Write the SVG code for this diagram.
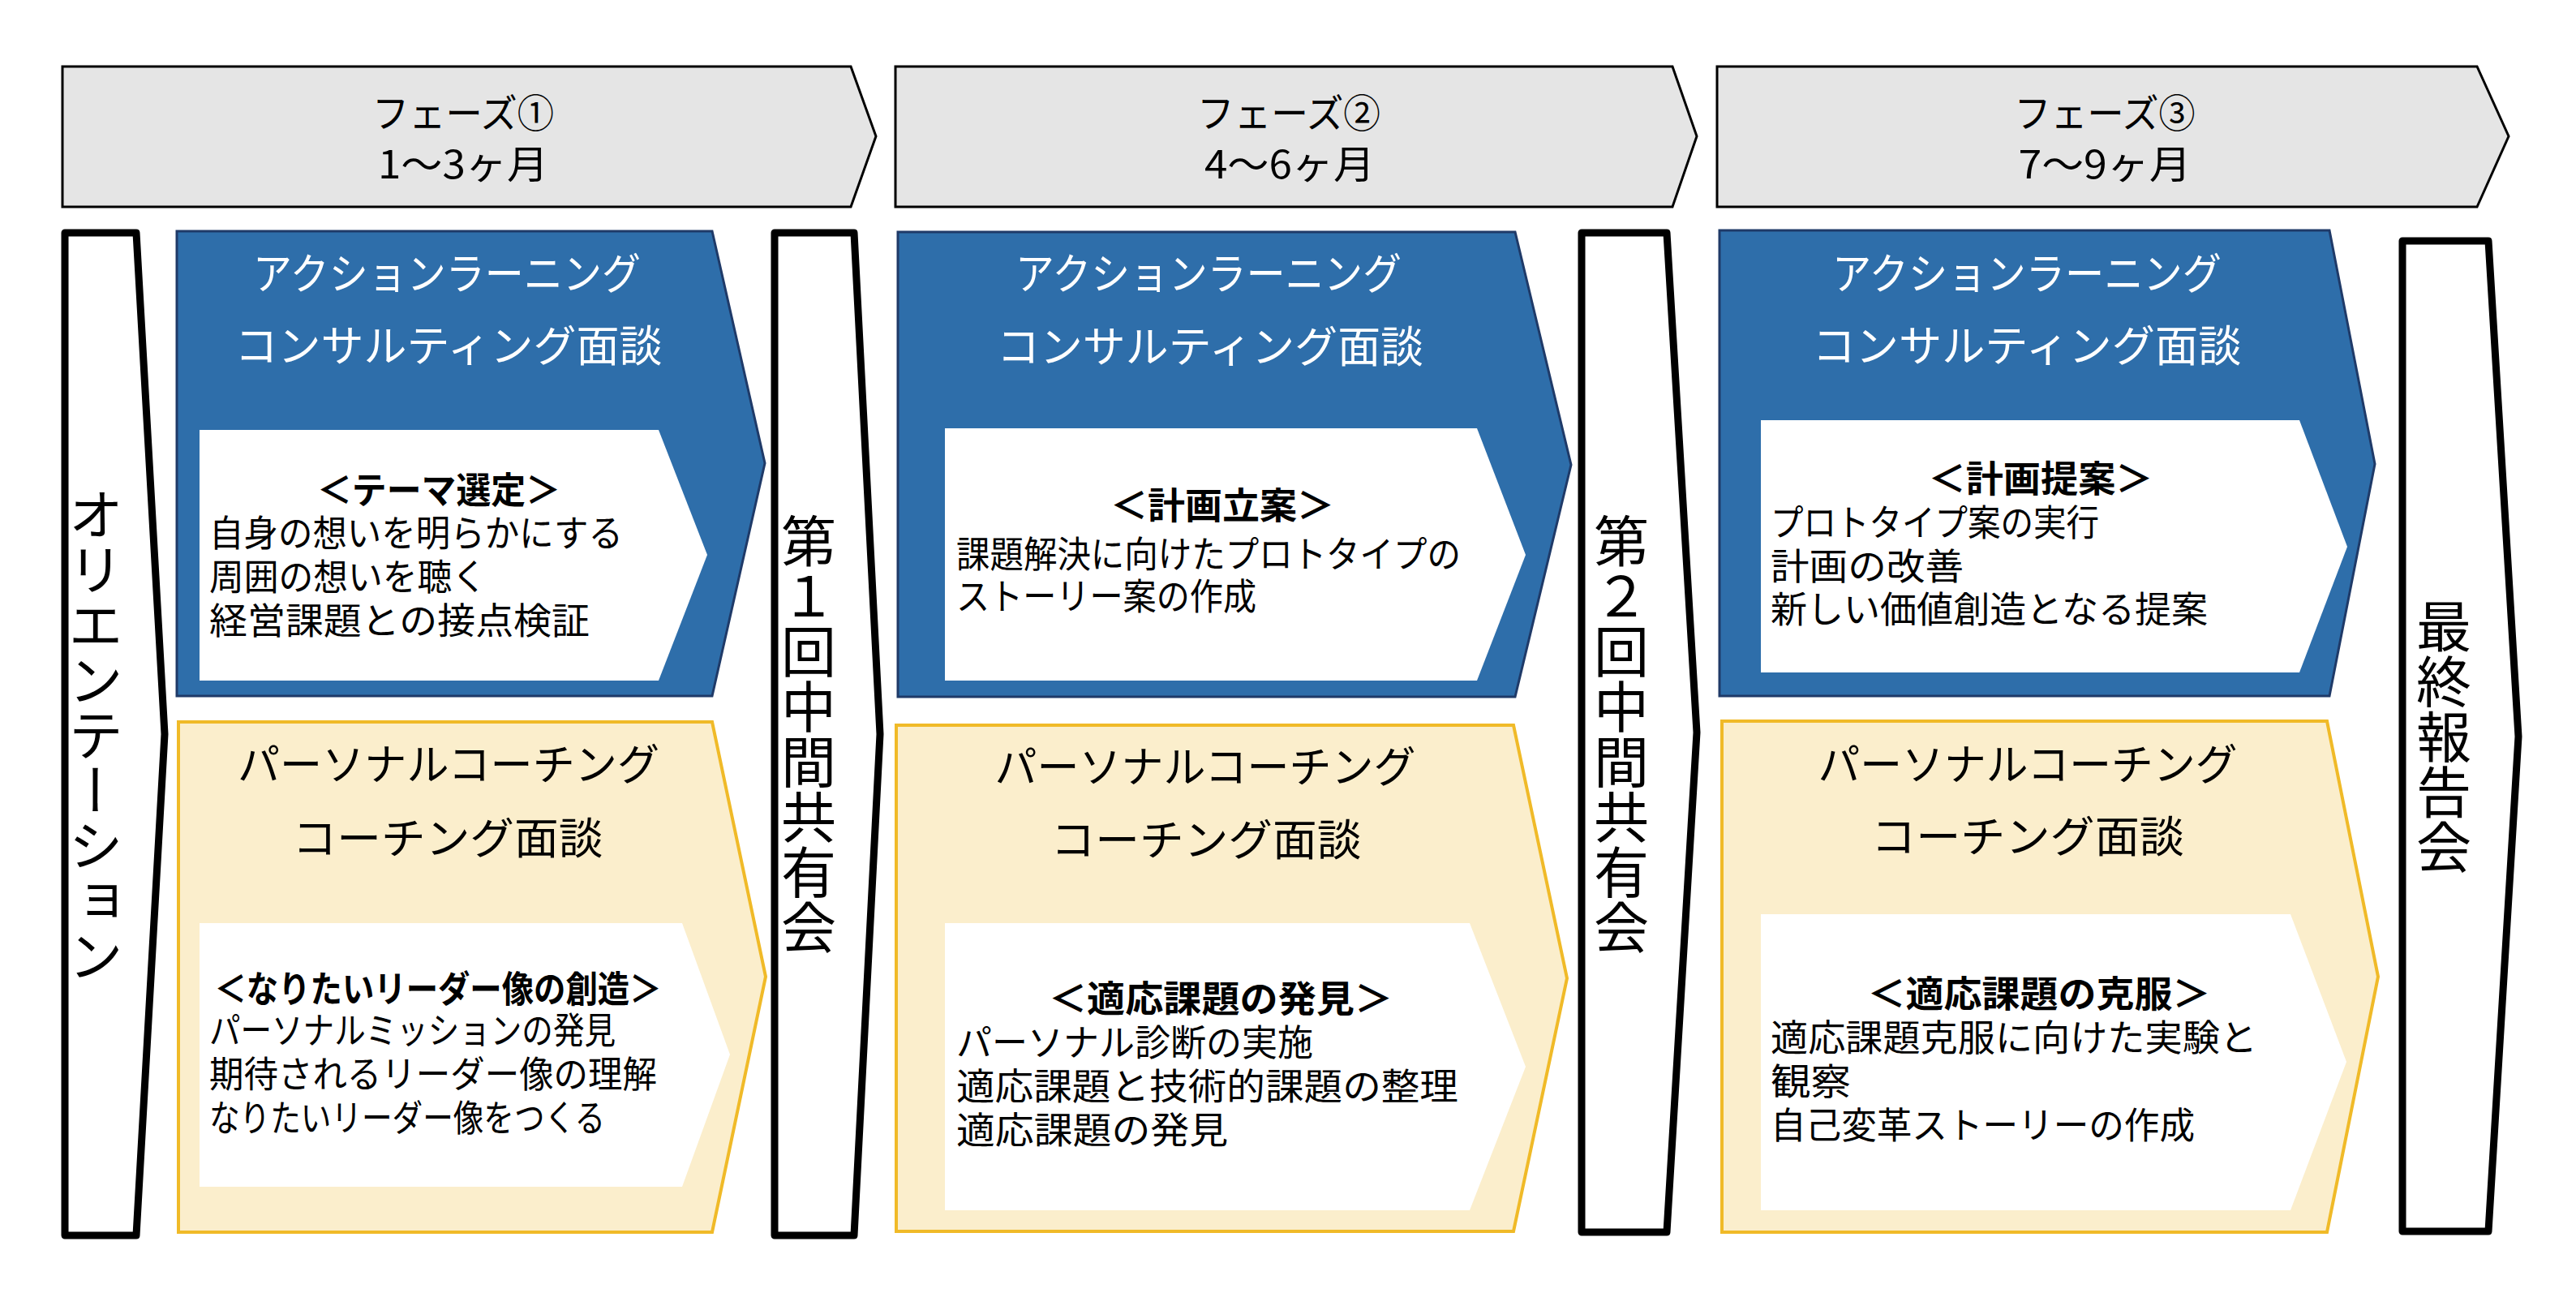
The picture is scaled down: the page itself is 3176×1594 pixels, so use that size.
<svg xmlns="http://www.w3.org/2000/svg" width="3176" height="1594" viewBox="0 0 3176 1594">
<style>
text{font-family:"Noto Sans CJK JP","Noto Sans",sans-serif;fill:#000}
.hdr{fill:#E5E5E5;stroke:#000;stroke-width:3;stroke-linejoin:miter}
.ht{font-size:48px;text-anchor:middle}
.evt{fill:#fff;stroke:#000;stroke-width:9;stroke-linejoin:round}
.vt{font-size:68px;writing-mode:vertical-rl;text-anchor:middle}
.blue{fill:#2E6EAA;stroke:#1F3A68;stroke-width:3}
.yel{fill:#FBEECC;stroke:#F0BA28;stroke-width:4}
.inner{fill:#fff}
.tw{font-size:53px;text-anchor:middle;fill:#fff}
.tb{font-size:53px;text-anchor:middle}
.hd{font-size:45px;font-weight:bold;text-anchor:middle}
.bd{font-size:45px}
</style>
<rect width="3176" height="1594" fill="#fff"/>

<g id="phase1">
<path class="hdr" d="M77,82 H1049 L1080,168 L1049,255 H77 Z"/>
<text class="ht" x="571" y="157" textLength="224" lengthAdjust="spacingAndGlyphs">フェーズ①</text>
<text class="ht" x="571" y="220" textLength="210" lengthAdjust="spacingAndGlyphs">1～3ヶ月</text>
</g>
<g id="phase2">
<path class="hdr" d="M1104,82 H2062 L2092,168 L2062,255 H1104 Z"/>
<text class="ht" x="1589" y="157" textLength="226" lengthAdjust="spacingAndGlyphs">フェーズ②</text>
<text class="ht" x="1590" y="220" textLength="210" lengthAdjust="spacingAndGlyphs">4～6ヶ月</text>
</g>
<g id="phase3">
<path class="hdr" d="M2117,82 H3054 L3093,168 L3054,255 H2117 Z"/>
<text class="ht" x="2595" y="157" textLength="223" lengthAdjust="spacingAndGlyphs">フェーズ③</text>
<text class="ht" x="2595" y="220" textLength="213" lengthAdjust="spacingAndGlyphs">7～9ヶ月</text>
</g>

<g id="orientation">
<path class="evt" d="M80,287 H168 L203,905 L168,1523 H80 Z"/>
<text class="vt" x="118" y="906">オリエンテーション</text>
</g>
<g id="midreview1">
<path class="evt" d="M955,287 H1053 L1085,905 L1053,1523 H955 Z"/>
<text class="vt" x="997" y="905">第１回中間共有会</text>
</g>
<g id="midreview2">
<path class="evt" d="M1950,287 H2055 L2092,903 L2055,1519 H1950 Z"/>
<text class="vt" x="1999" y="905">第２回中間共有会</text>
</g>
<g id="finalreport">
<path class="evt" d="M2962,297 H3068 L3105,908 L3068,1518 H2962 Z"/>
<text class="vt" x="3013" y="908">最終報告会</text>
</g>

<g id="action1">
<path class="blue" d="M218,285 H878 L943,571 L878,858 H218 Z"/>
<text class="tw" x="551" y="357" textLength="478" lengthAdjust="spacingAndGlyphs">アクションラーニング</text>
<text class="tw" x="553" y="446" textLength="527" lengthAdjust="spacingAndGlyphs">コンサルティング面談</text>
<path class="inner" d="M246,530 H812 L872,684 L812,839 H246 Z"/>
<text class="hd" x="541" y="621" textLength="300" lengthAdjust="spacingAndGlyphs">＜テーマ選定＞</text>
<text class="bd" x="258" y="674" textLength="510" lengthAdjust="spacingAndGlyphs">自身の想いを明らかにする</text>
<text class="bd" x="258" y="728" textLength="342" lengthAdjust="spacingAndGlyphs">周囲の想いを聴く</text>
<text class="bd" x="258" y="782" textLength="469" lengthAdjust="spacingAndGlyphs">経営課題との接点検証</text>
</g>
<g id="action2">
<path class="blue" d="M1107,286 H1868 L1937,573 L1868,859 H1107 Z"/>
<text class="tw" x="1490" y="357" textLength="476" lengthAdjust="spacingAndGlyphs">アクションラーニング</text>
<text class="tw" x="1492" y="447" textLength="526" lengthAdjust="spacingAndGlyphs">コンサルティング面談</text>
<path class="inner" d="M1165,528 H1821 L1881,684 L1821,839 H1165 Z"/>
<text class="hd" x="1507" y="640" textLength="276" lengthAdjust="spacingAndGlyphs">＜計画立案＞</text>
<text class="bd" x="1179" y="700" textLength="622" lengthAdjust="spacingAndGlyphs">課題解決に向けたプロトタイプの</text>
<text class="bd" x="1179" y="752" textLength="370" lengthAdjust="spacingAndGlyphs">ストーリー案の作成</text>
</g>
<g id="action3">
<path class="blue" d="M2120,284 H2872 L2928,572 L2872,858 H2120 Z"/>
<text class="tw" x="2499" y="357" textLength="480" lengthAdjust="spacingAndGlyphs">アクションラーニング</text>
<text class="tw" x="2499" y="446" textLength="529" lengthAdjust="spacingAndGlyphs">コンサルティング面談</text>
<path class="inner" d="M2171,518 H2835 L2894,674 L2835,829 H2171 Z"/>
<text class="hd" x="2516" y="607" textLength="277" lengthAdjust="spacingAndGlyphs">＜計画提案＞</text>
<text class="bd" x="2183" y="661" textLength="405" lengthAdjust="spacingAndGlyphs">プロトタイプ案の実行</text>
<text class="bd" x="2183" y="715" textLength="238" lengthAdjust="spacingAndGlyphs">計画の改善</text>
<text class="bd" x="2183" y="768" textLength="539" lengthAdjust="spacingAndGlyphs">新しい価値創造となる提案</text>
</g>

<g id="coaching1">
<path class="yel" d="M220,890 H878 L944,1204 L878,1519 H220 Z"/>
<text class="tb" x="553" y="962" textLength="520" lengthAdjust="spacingAndGlyphs">パーソナルコーチング</text>
<text class="tb" x="552" y="1053" textLength="383" lengthAdjust="spacingAndGlyphs">コーチング面談</text>
<path class="inner" d="M246,1138 H841 L900,1300 L841,1463 H246 Z"/>
<text class="hd" x="540" y="1236" textLength="551" lengthAdjust="spacingAndGlyphs">＜なりたいリーダー像の創造＞</text>
<text class="bd" x="258" y="1287" textLength="501" lengthAdjust="spacingAndGlyphs">パーソナルミッションの発見</text>
<text class="bd" x="258" y="1341" textLength="552" lengthAdjust="spacingAndGlyphs">期待されるリーダー像の理解</text>
<text class="bd" x="258" y="1395" textLength="488" lengthAdjust="spacingAndGlyphs">なりたいリーダー像をつくる</text>
</g>
<g id="coaching2">
<path class="yel" d="M1105,894 H1866 L1932,1206 L1866,1518 H1105 Z"/>
<text class="tb" x="1486" y="965" textLength="519" lengthAdjust="spacingAndGlyphs">パーソナルコーチング</text>
<text class="tb" x="1487" y="1055" textLength="383" lengthAdjust="spacingAndGlyphs">コーチング面談</text>
<path class="inner" d="M1165,1138 H1812 L1881,1315 L1812,1492 H1165 Z"/>
<text class="hd" x="1505" y="1248" textLength="424" lengthAdjust="spacingAndGlyphs">＜適応課題の発見＞</text>
<text class="bd" x="1179" y="1302" textLength="440" lengthAdjust="spacingAndGlyphs">パーソナル診断の実施</text>
<text class="bd" x="1179" y="1356" textLength="619" lengthAdjust="spacingAndGlyphs">適応課題と技術的課題の整理</text>
<text class="bd" x="1179" y="1410" textLength="335" lengthAdjust="spacingAndGlyphs">適応課題の発見</text>
</g>
<g id="coaching3">
<path class="yel" d="M2123,889 H2869 L2932,1204 L2869,1519 H2123 Z"/>
<text class="tb" x="2500" y="962" textLength="517" lengthAdjust="spacingAndGlyphs">パーソナルコーチング</text>
<text class="tb" x="2500" y="1051" textLength="386" lengthAdjust="spacingAndGlyphs">コーチング面談</text>
<path class="inner" d="M2171,1127 H2824 L2893,1309 L2824,1492 H2171 Z"/>
<text class="hd" x="2514" y="1242" textLength="423" lengthAdjust="spacingAndGlyphs">＜適応課題の克服＞</text>
<text class="bd" x="2183" y="1296" textLength="600" lengthAdjust="spacingAndGlyphs">適応課題克服に向けた実験と</text>
<text class="bd" x="2183" y="1350" textLength="99" lengthAdjust="spacingAndGlyphs">観察</text>
<text class="bd" x="2183" y="1404" textLength="523" lengthAdjust="spacingAndGlyphs">自己変革ストーリーの作成</text>
</g>

<g id="connectors"></g>
</svg>
